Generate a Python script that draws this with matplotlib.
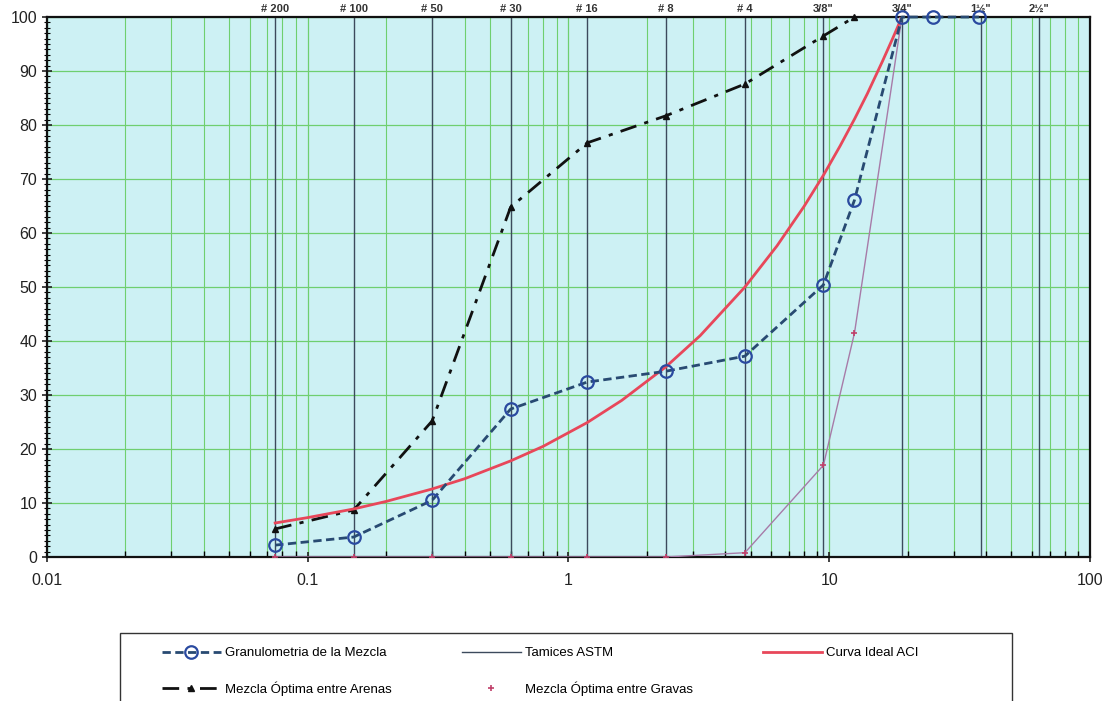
import matplotlib.pyplot as plt
import matplotlib.ticker as mticker
from matplotlib.patches import Rectangle
from matplotlib.lines import Line2D
import numpy as np

plt.rcParams['font.family'] = ['Liberation Sans', 'DejaVu Sans']

# sieve openings (mm) and names
sieve_mm = [0.075, 0.15, 0.3, 0.6, 1.18, 2.36, 4.75, 9.5, 19.0, 38.1, 63.5]
sieve_names = ['# 200', '# 100', '# 50', '# 30', '# 16', '# 8', '# 4',
               '3/8"', '3/4"', '1½"', '2½"']

# Granulometria de la Mezcla
mezcla_mm = [0.075, 0.15, 0.3, 0.6, 1.18, 2.36, 4.75, 9.5, 12.5, 19.0, 25.0, 37.5]
mezcla_pct = [2.2, 3.7, 10.5, 27.4, 32.4, 34.4, 37.2, 50.4, 66.1, 100, 100, 100]

# Mezcla Optima entre Arenas
arenas_mm = [0.075, 0.15, 0.3, 0.6, 1.18, 2.36, 4.75, 9.5, 12.5]
arenas_pct = [5.2, 8.7, 25.2, 64.8, 76.7, 81.7, 87.6, 96.5, 100]

# Mezcla Optima entre Gravas
gravas_mm = [0.075, 0.15, 0.3, 0.6, 1.18, 2.36, 4.75, 9.5, 12.5, 19.0]
gravas_pct = [0, 0, 0, 0, 0, 0, 0.8, 17.0, 41.5, 100]

# Curva Ideal ACI
aci_mm = [0.075, 0.1, 0.15, 0.2, 0.3, 0.4, 0.6, 0.8, 1.18, 1.6, 2.36, 3.2,
          4.75, 6.3, 8.0, 9.5, 11.0, 12.5, 14.0, 16.0, 17.5, 19.0]
aci_pct = [6.3, 7.3, 8.9, 10.3, 12.6, 14.5, 17.8, 20.5, 24.9, 29.0, 35.2, 41.0,
           50.0, 57.6, 64.9, 70.7, 76.1, 81.1, 85.8, 91.8, 96.0, 100]

fig = plt.figure(figsize=(11.06, 7.01), dpi=100)
ax = fig.add_axes([0.0425, 0.2054, 0.943, 0.7703])
ax.set_facecolor('#cdf1f4')

ax.set_xscale('log')
ax.set_xlim(0.01, 100)
ax.set_ylim(0, 100)

grid_green = '#6fcf6f'
ax.grid(True, which='major', axis='both', color=grid_green, lw=0.9, zorder=0)
ax.grid(True, which='minor', axis='x', color=grid_green, lw=0.8, zorder=0)
ax.set_axisbelow(True)

# Tamices ASTM
for i, d in enumerate(sieve_mm):
    ax.plot([d, d], [0, 100], color='#3c4a5c', lw=1.0, zorder=1,
            label='Tamices ASTM' if i == 0 else None)
    ax.text(d, 100.6, sieve_names[i], ha='center', va='bottom', fontsize=8,
            fontweight='bold', color='#333333')

ax.plot(mezcla_mm, mezcla_pct, color='#284a72', ls=(0, (3, 1.6)), lw=2,
        marker='o', ms=9, mfc='none', mec='#2a4aa0', mew=1.6, clip_on=False,
        zorder=5, label='Granulometria de la Mezcla')
ax.plot(arenas_mm, arenas_pct, color='#111111', ls=(0, (6, 3, 1.5, 3)), lw=2,
        marker='^', ms=4, clip_on=False, zorder=4,
        label='Mezcla Óptima entre Arenas')
ax.plot(gravas_mm, gravas_pct, color='#a77ba8', ls='-', lw=1.0, marker='+',
        ms=5, mec='#c0406a', mew=1.2, zorder=3)
ax.plot(aci_mm, aci_pct, color='#e8475a', lw=2, zorder=4,
        label='Curva Ideal ACI')

ax.xaxis.set_major_locator(mticker.FixedLocator([0.01, 0.1, 1, 10, 100]))
ax.set_xticklabels(['0.01', '0.1', '1', '10', '100'])
ax.xaxis.set_minor_locator(mticker.LogLocator(base=10, subs=np.arange(2, 10)))
ax.xaxis.set_minor_formatter(mticker.NullFormatter())
ax.yaxis.set_major_locator(mticker.MultipleLocator(10))
ax.yaxis.set_minor_locator(mticker.MultipleLocator(1))

ax.tick_params(axis='both', which='major', labelsize=11.5, direction='inout',
               length=7, width=1.2, colors='#222222')
ax.tick_params(axis='x', which='minor', direction='in', length=4, width=1.0)
ax.tick_params(axis='y', which='minor', direction='inout', length=5,
               width=0.8)
ax.tick_params(axis='x', pad=8)
for s in ax.spines.values():
    s.set_linewidth(1.6)
    s.set_color('#111111')

# legend box, cut by the bottom edge as in the original
fig.patches.append(Rectangle((120 / 1106, -0.02), 892 / 1106, 0.0976 + 0.02,
                             transform=fig.transFigure, fill=False,
                             edgecolor='#333333', lw=1.0))

h, l = ax.get_legend_handles_labels()
h.append(Line2D([], [], ls='none', marker='+', ms=5, mec='#c0406a', mew=1.2))
l.append('Mezcla Óptima entre Gravas')
order = ['Granulometria de la Mezcla', 'Mezcla Óptima entre Arenas',
         'Tamices ASTM', 'Mezcla Óptima entre Gravas', 'Curva Ideal ACI']
hs = [h[l.index(o)] for o in order]
leg = fig.legend(hs, order, loc='upper left', ncol=3,
                 bbox_to_anchor=(0.1365, 0.092), fontsize=9.5, frameon=False,
                 columnspacing=5.3, handlelength=4.5, handletextpad=0.3,
                 borderpad=0.3, labelspacing=1.65)

fig.savefig('out.png', dpi=100)
